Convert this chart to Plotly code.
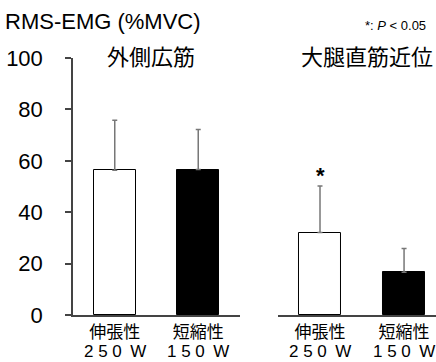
import plotly.graph_objects as go

# RMS-EMG (%MVC), mean and SD per muscle and contraction condition
muscles = ["外側広筋", "大腿直筋近位"]
conditions = ["伸張性", "短縮性"]
loads = ["2 5 0\u2002W", "1 5 0\u2002W"]
vl_mean = [56.3, 56.6]
vl_sd = [19.5, 15.6]
rf_mean = [32.1, 16.6]
rf_sd = [18.1, 9.3]
y_ticks = [0, 20, 40, 60, 80, 100]
sig_mark = "*"

FONT = "Arial, 'Liberation Sans', 'Noto Sans CJK JP', sans-serif"
JP_FONT = "'Noto Sans CJK JP', Arial, sans-serif"
bar_fill = ["white", "black"]
pos = [0, 1]

fig = go.Figure()


def add_bars(means, sds, xaxis):
    fig.add_trace(go.Bar(
        x=pos, y=means, width=0.5, xaxis=xaxis, yaxis="y",
        marker=dict(color=bar_fill, line=dict(color="black", width=1)),
        error_y=dict(type="data", array=sds, arrayminus=[0, 0], symmetric=False,
                     color="#777777", thickness=1.5, width=2.5),
        showlegend=False, hoverinfo="skip",
    ))


add_bars(vl_mean, vl_sd, "x")
add_bars(rf_mean, rf_sd, "x2")

axis_common = dict(
    showline=True, linecolor="#444444", linewidth=1.5, ticks="",
    showgrid=False, zeroline=False, tickvals=pos, ticktext=conditions,
    tickfont=dict(family=JP_FONT, size=17, color="black"), anchor="y",
    fixedrange=True, automargin=False, ticklabelstandoff=1,
)

fig.update_layout(
    width=436, height=362,
    margin=dict(l=73, r=0, t=57.5, b=47, pad=0, autoexpand=False),
    paper_bgcolor="white", plot_bgcolor="white",
    bargap=0,
    xaxis=dict(domain=[0, 0.46], range=[-0.5, 1.5], **axis_common),
    xaxis2=dict(domain=[0.5647, 1], range=[-0.5, 1.38], **axis_common),
    yaxis=dict(
        range=[0, 100], tickvals=y_ticks, showline=True, linecolor="#444444",
        linewidth=1.5, ticks="outside", ticklen=6, tickwidth=1.5,
        tickcolor="#444444", showgrid=False, zeroline=False,
        tickfont=dict(family=FONT, size=22, color="black"),
        ticklabelstandoff=18, anchor="x", automargin=False,
    ),
    font=dict(family=FONT, color="black"),
)

# Workload line under each condition label
for xref in ("x", "x2"):
    for p, load in zip(pos, loads):
        fig.add_annotation(text=load, xref=xref, yref="paper",
                           x=p, y=(315 - 352) / 257.5, xanchor="center",
                           yanchor="middle", showarrow=False, borderpad=0,
                           font=dict(family=FONT, size=17))

# Y-axis title and significance note
fig.add_annotation(text="RMS-EMG (%MVC)", xref="paper", yref="paper",
                   x=-0.193, y=1.142, xanchor="left", yanchor="middle",
                   showarrow=False, font=dict(family=FONT, size=22))
fig.add_annotation(text="*: <i>P</i> &lt; 0.05", xref="paper", yref="paper",
                   x=0.978, y=1.126, xanchor="right", yanchor="middle",
                   showarrow=False, font=dict(family=FONT, size=13))

# Muscle names above each panel
fig.add_annotation(text=muscles[0], xref="paper", yref="paper",
                   x=(151 - 73) / 363, y=1.012, xanchor="center", yanchor="middle",
                   showarrow=False, font=dict(family=JP_FONT, size=22))
fig.add_annotation(text=muscles[1], xref="paper", yref="paper",
                   x=(367 - 73) / 363, y=1.012, xanchor="center", yanchor="middle",
                   showarrow=False, font=dict(family=JP_FONT, size=22))

# Significance marker above the eccentric bar of the second muscle
fig.add_annotation(text=sig_mark, xref="x2", yref="y",
                   x=pos[0], y=rf_mean[0] + rf_sd[0], yanchor="bottom",
                   yshift=-4, showarrow=False,
                   font=dict(family=FONT, size=22, weight="bold"))

fig.write_html("out.html")
